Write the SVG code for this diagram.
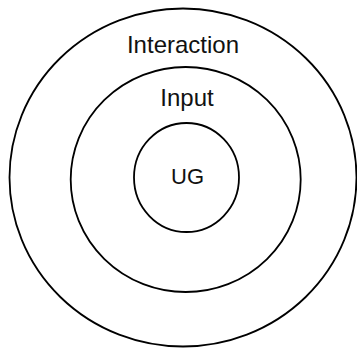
<svg xmlns="http://www.w3.org/2000/svg" width="357" height="349" viewBox="0 0 357 349">
<style>
.ring{fill:none;stroke:#000;stroke-width:1.8}
.lbl{font-family:"Liberation Sans",Arial,sans-serif;font-size:24px;fill:#111;text-anchor:middle}
</style>
<rect width="357" height="349" fill="#fff"/>
<g id="interaction">
<ellipse class="ring" cx="183" cy="177.5" rx="173.5" ry="169"/>
<text class="lbl" x="183" y="53">Interaction</text>
</g>
<g id="input">
<ellipse class="ring" cx="185.7" cy="179.5" rx="115" ry="112.5"/>
<text class="lbl" x="187" y="106">Input</text>
</g>
<g id="ug">
<ellipse class="ring" cx="186.5" cy="177.5" rx="52.5" ry="54.5"/>
<text class="lbl" x="187.5" y="184" style="font-size:22px">UG</text>
</g>
<g id="connectors"/>
</svg>
